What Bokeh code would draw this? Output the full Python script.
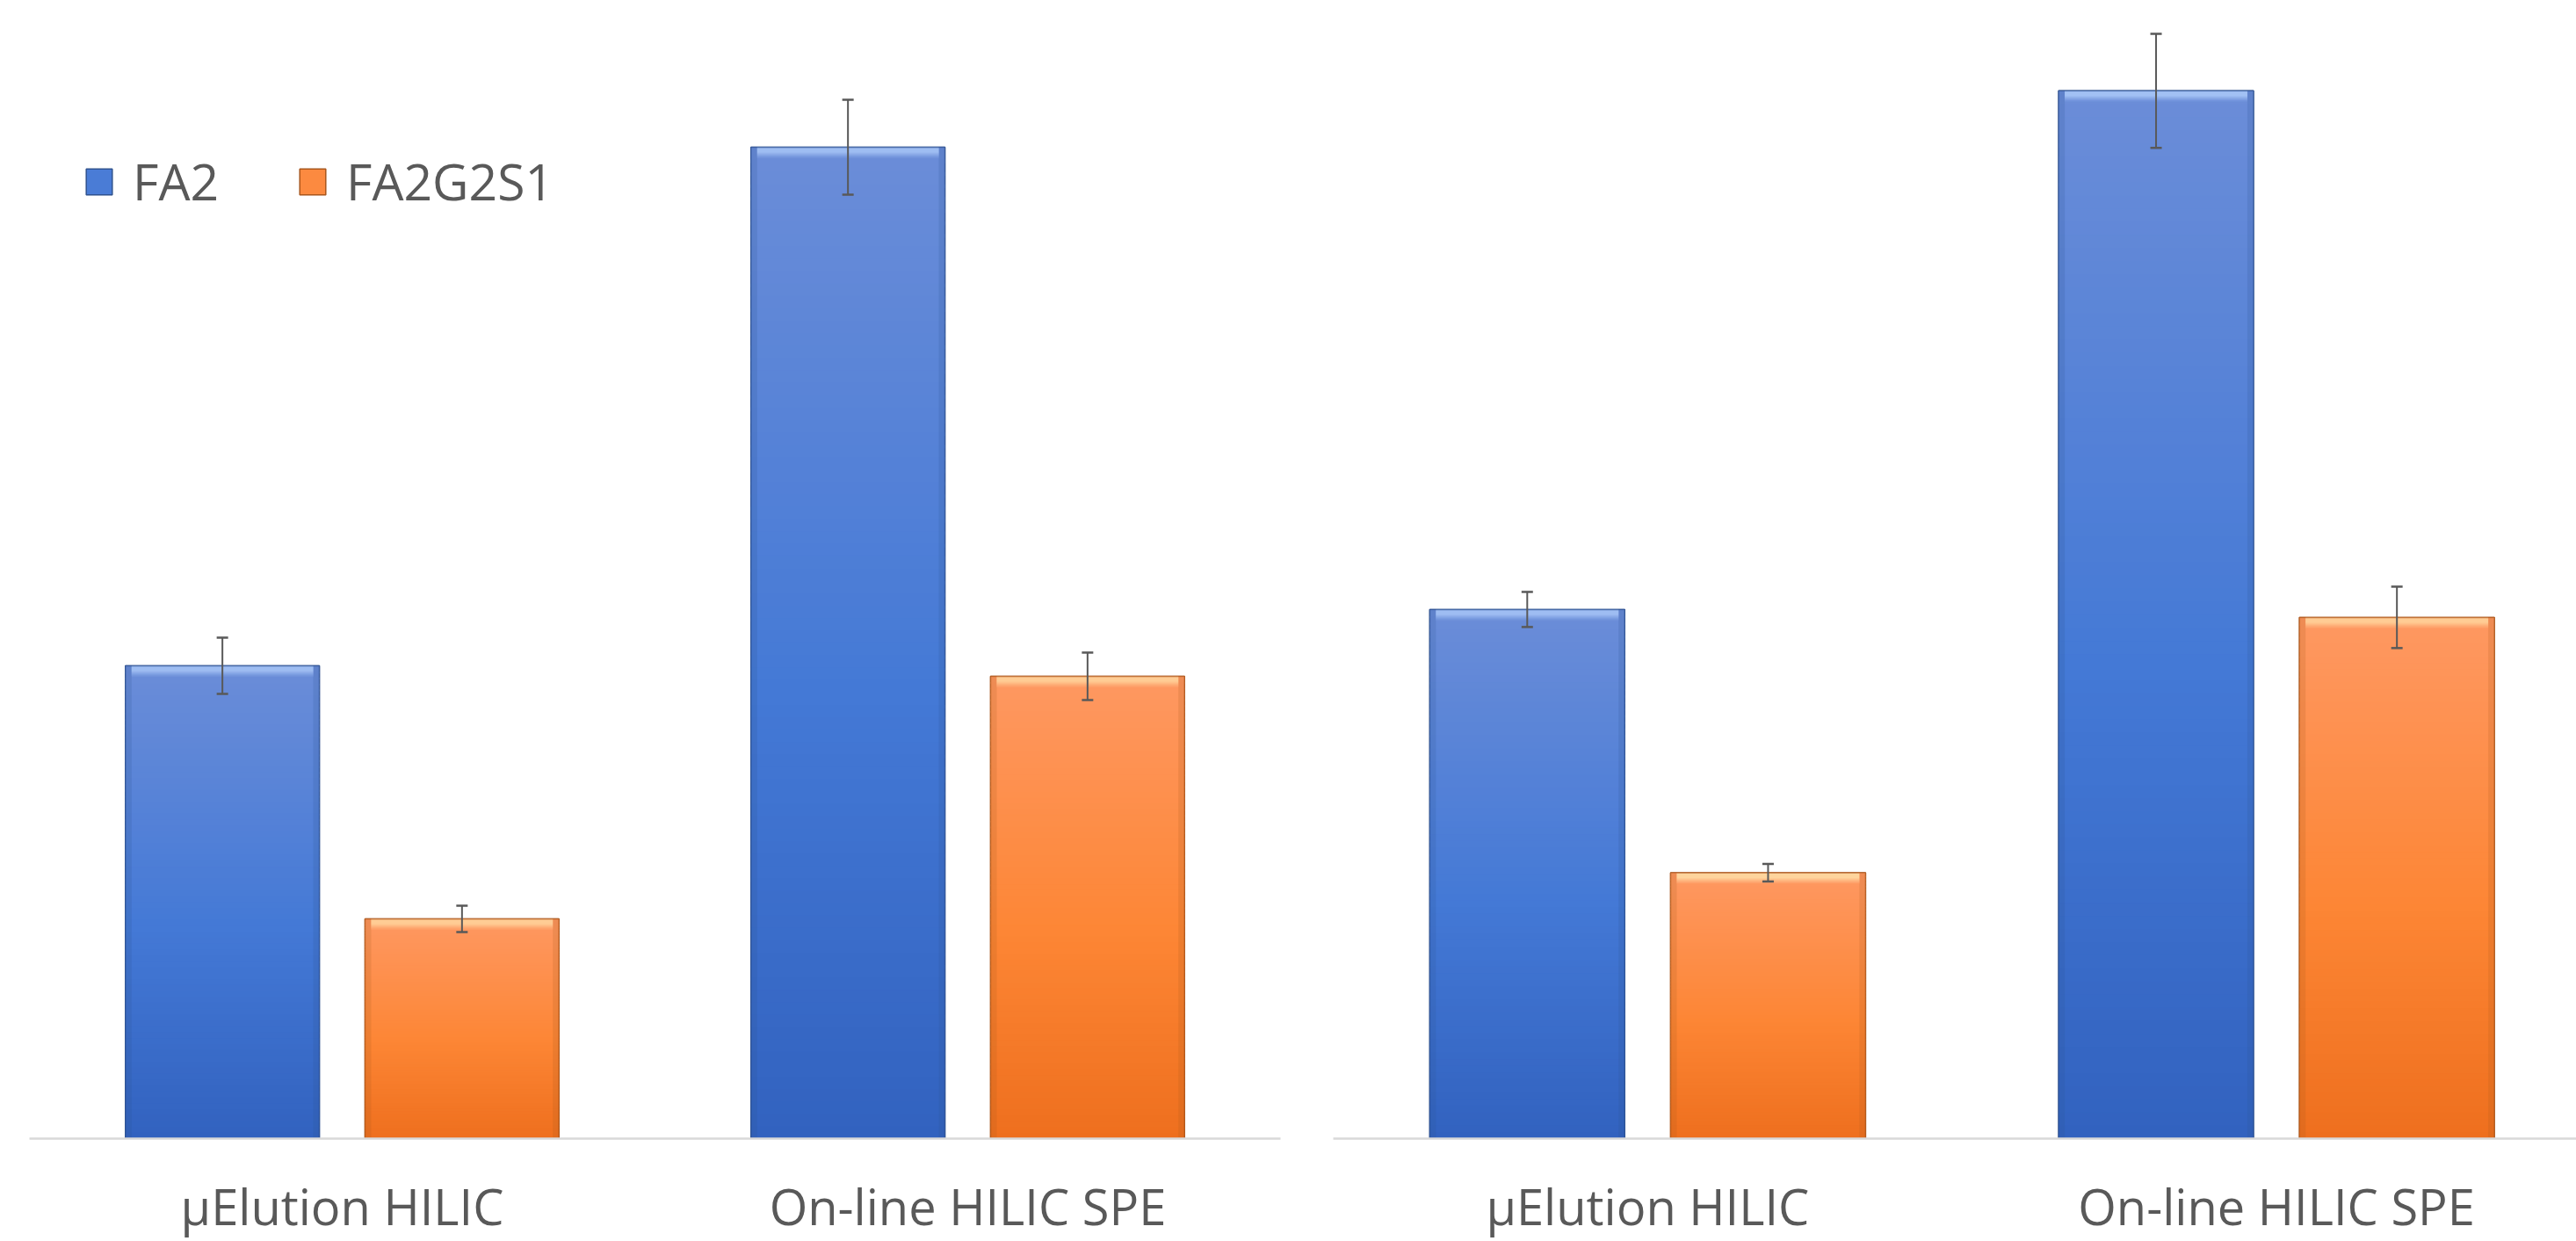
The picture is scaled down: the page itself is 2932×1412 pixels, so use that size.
from bokeh.plotting import figure
from bokeh.models import (Range1d, FixedTicker, Legend, LegendItem, ColumnDataSource,
                          Whisker, TeeHead)
from bokeh.layouts import row
from bokeh.embed import file_html
from bokeh.resources import INLINE

# ---------------- data ----------------
categories = ["µElution HILIC", "On-line HILIC SPE"]
series_names = ["FA2", "FA2G2S1"]

left_fa2 = [5.38, 11.28]
left_fa2_err = [0.32, 0.54]
left_fa2g2s1 = [2.50, 5.26]
left_fa2g2s1_err = [0.15, 0.27]

right_fa2 = [6.03, 11.94]
right_fa2_err = [0.20, 0.65]
right_fa2g2s1 = [3.03, 5.94]
right_fa2g2s1_err = [0.10, 0.35]

# ---------------- style ----------------
FONT = "Open Sans"
TEXT_COLOR = "#595959"
BLUE_STOPS = [(0.0, "#6B8DD8"), (0.55, "#4479D6"), (1.0, "#3262BF")]
ORANGE_STOPS = [(0.0, "#FE9862"), (0.55, "#FD8635"), (1.0, "#EE6F1E")]
BLUE_HI = "#A6C4F6"
ORANGE_HI = "#FFD49C"
BLUE_EDGE = "#2F528F"
ORANGE_EDGE = "#A9561C"
BLUE_MID = "#4A7CD6"
ORANGE_MID = "#FC8A40"

OFFSET = 0.1915
BAR_W = 0.31


def hex2rgb(h):
    h = h.lstrip("#")
    return tuple(int(h[i:i + 2], 16) for i in (0, 2, 4))


def rgb2hex(c):
    return "#%02x%02x%02x" % tuple(int(round(v)) for v in c)


def grad(stops, t):
    for (t0, c0), (t1, c1) in zip(stops[:-1], stops[1:]):
        if t <= t1:
            f = (t - t0) / (t1 - t0) if t1 > t0 else 0
            a, b = hex2rgb(c0), hex2rgb(c1)
            return rgb2hex([a[i] + (b[i] - a[i]) * f for i in range(3)])
    return stops[-1][1]


def mix(c1, c2, f):
    a, b = hex2rgb(c1), hex2rgb(c2)
    return rgb2hex([a[i] + (b[i] - a[i]) * f for i in range(3)])


def draw_series(p, xs, vals, errs, stops, hi, edge, mid, ymax, frame_h, frame_w, x_end):
    # base bar (used for legend)
    base = p.vbar(x=xs, top=vals, bottom=0, width=BAR_W, fill_color=mid,
                  line_color=edge, line_width=1.5)
    # gradient slices
    N = 80
    sx, sb, st, sc = [], [], [], []
    for x, v in zip(xs, vals):
        for k in range(N):
            t = (k + 0.5) / N  # fraction from top
            top = v * (1 - k / N)
            bot = v * (1 - (k + 1.3) / N)
            sx.append(x); st.append(top); sb.append(max(bot, 0)); sc.append(grad(stops, t))
    p.vbar(x="x", top="top", bottom="bottom", width=BAR_W, fill_color="color",
           line_color=None, source=ColumnDataSource(dict(x=sx, top=st, bottom=sb, color=sc)))
    # side bevels (darker strips)
    pxx = x_end / frame_w
    side_w = 7 * pxx
    lx = [x - BAR_W / 2 + side_w / 2 for x in xs] + [x + BAR_W / 2 - side_w / 2 for x in xs]
    p.vbar(x=lx, top=list(vals) * 2, bottom=0, width=side_w, fill_color=edge,
           fill_alpha=0.18, line_color=None)
    # top bevel highlight (about 12 px)
    px = ymax / frame_h
    hx, hb, ht, hc = [], [], [], []
    M = 12
    for x, v in zip(xs, vals):
        for k in range(M):
            if k < 2:
                c = mix(hi, edge, 0.25 if k == 0 else 0.0)
            elif k < 6:
                c = hi
            else:
                c = mix(hi, grad(stops, 0.0), (k - 5) / (M - 5))
            hx.append(x); ht.append(v - k * px); hb.append(v - (k + 1.3) * px); hc.append(c)
    p.vbar(x="x", top="top", bottom="bottom", width=BAR_W - 2 * side_w, fill_color="color",
           line_color=None, source=ColumnDataSource(dict(x=hx, top=ht, bottom=hb, color=hc)))
    # outline on top
    p.vbar(x=xs, top=vals, bottom=0, width=BAR_W, fill_color=None,
           line_color=edge, line_alpha=0.55, line_width=1.5)
    # error bars
    src = ColumnDataSource(dict(x=xs, upper=[v + e for v, e in zip(vals, errs)],
                                lower=[v - e for v, e in zip(vals, errs)]))
    w = Whisker(base="x", upper="upper", lower="lower", source=src, dimension="height",
                line_color=TEXT_COLOR, line_width=2, level="annotation",
                upper_head=TeeHead(size=13, line_color=TEXT_COLOR, line_width=2.5),
                lower_head=TeeHead(size=13, line_color=TEXT_COLOR, line_width=2.5))
    p.add_layout(w)
    return base


def make_panel(width, border_left, border_right, border_bottom, x_end, ymax,
               fa2, fa2_err, fa2g, fa2g_err, with_legend):
    frame_h = 1412 - border_bottom
    frame_w = width - border_left - border_right
    p = figure(width=width, height=1412, output_backend="svg", toolbar_location=None,
               x_range=Range1d(0, x_end), y_range=Range1d(0, ymax),
               min_border_left=border_left, min_border_right=border_right,
               min_border_top=0, min_border_bottom=border_bottom,
               y_axis_location=None)
    p.outline_line_color = None
    p.xgrid.visible = False
    p.ygrid.visible = False
    p.background_fill_color = "white"
    p.border_fill_color = "white"

    centers = [i + 0.5 for i in range(len(categories))]
    xs_fa2 = [c - OFFSET for c in centers]
    xs_fa2g = [c + OFFSET for c in centers]

    b1 = draw_series(p, xs_fa2, fa2, fa2_err, BLUE_STOPS, BLUE_HI, BLUE_EDGE, BLUE_MID,
                     ymax, frame_h, frame_w, x_end)
    b2 = draw_series(p, xs_fa2g, fa2g, fa2g_err, ORANGE_STOPS, ORANGE_HI, ORANGE_EDGE, ORANGE_MID,
                     ymax, frame_h, frame_w, x_end)

    ax = p.xaxis[0]
    ax.ticker = FixedTicker(ticks=centers)
    ax.major_label_overrides = {c: lab for c, lab in zip(centers, categories)}
    ax.axis_line_color = "#D9D9D9"
    ax.axis_line_width = 2.5
    ax.major_tick_line_color = None
    ax.minor_tick_line_color = None
    ax.major_label_text_font = FONT
    ax.major_label_text_font_size = "56px"
    ax.major_label_text_color = TEXT_COLOR
    ax.major_label_standoff = 32

    if with_legend:
        leg = Legend(items=[LegendItem(label=series_names[0], renderers=[b1]),
                            LegendItem(label=series_names[1], renderers=[b2])],
                     orientation="horizontal", location=(61, 1050),
                     glyph_width=37, glyph_height=37, label_standoff=20, spacing=88,
                     padding=0, margin=0, border_line_color=None, background_fill_alpha=0,
                     label_text_font=FONT, label_text_font_size="57px",
                     label_text_color=TEXT_COLOR)
        p.add_layout(leg)
    return p


p1 = make_panel(1490, 33, 33, 117, 2.0, 12.95,
                left_fa2, left_fa2_err, left_fa2g2s1, left_fa2g2s1_err, True)
p2 = make_panel(1442, 27, 0, 115, 1.977, 12.97,
                right_fa2, right_fa2_err, right_fa2g2s1, right_fa2g2s1_err, False)

layout = row(p1, p2, spacing=0)
open("out.html", "w").write(file_html(layout, INLINE))
